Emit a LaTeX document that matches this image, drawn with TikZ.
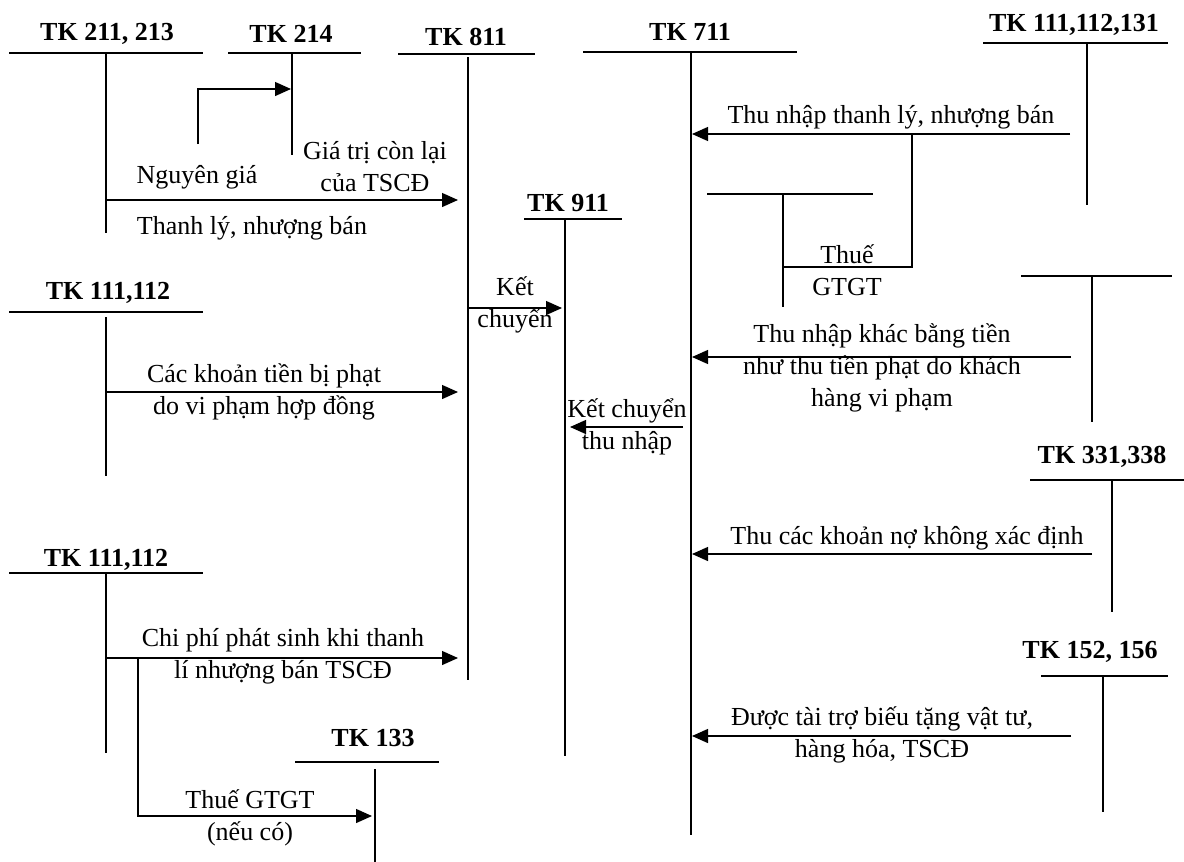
\documentclass[tikz,border=0pt]{standalone}
\usepackage{fontspec}
\setmainfont{Liberation Serif}
\usetikzlibrary{arrows.meta}
\newcommand{\myfs}{\fontsize{26}{32}\selectfont}
\begin{document}
\begin{tikzpicture}[x=1pt,y=-1pt,
  ln/.style={line width=1.3pt},
  arr/.style={line width=1.3pt,-{Triangle[length=16pt,width=14pt]}},
  ttl/.style={font=\myfs\bfseries, inner sep=0pt},
  lbl/.style={font=\myfs, inner sep=0pt, align=center}]
\useasboundingbox (0,0) rectangle (1184,862);

% ---------- T accounts ----------
\node[ttl] (t1) at (107,34) {TK 211, 213};
\coordinate (t1a) at (9,53);   \coordinate (t1b) at (203,53);
\coordinate (t1c) at (106,53); \coordinate (t1d) at (106,233);
\draw[ln] (t1a) -- (t1b); \draw[ln] (t1c) -- (t1d);

\node[ttl] (t2) at (291,34) {TK 214};
\coordinate (t2a) at (228,53); \coordinate (t2b) at (361,53);
\coordinate (t2c) at (292,53); \coordinate (t2d) at (292,155);
\draw[ln] (t2a) -- (t2b); \draw[ln] (t2c) -- (t2d);

\node[ttl] (t3) at (466,37) {TK 811};
\coordinate (t3a) at (398,54); \coordinate (t3b) at (535,54);
\coordinate (t3c) at (468,57); \coordinate (t3d) at (468,680);
\draw[ln] (t3a) -- (t3b); \draw[ln] (t3c) -- (t3d);

\node[ttl] (t4) at (690,32) {TK 711};
\coordinate (t4a) at (583,52); \coordinate (t4b) at (797,52);
\coordinate (t4c) at (691,52); \coordinate (t4d) at (691,835);
\draw[ln] (t4a) -- (t4b); \draw[ln] (t4c) -- (t4d);

\node[ttl] (t5) at (1074,25) {TK 111,112,131};
\coordinate (t5a) at (983,43);  \coordinate (t5b) at (1168,43);
\coordinate (t5c) at (1087,43); \coordinate (t5d) at (1087,205);
\draw[ln] (t5a) -- (t5b); \draw[ln] (t5c) -- (t5d);

\node[ttl] (t6) at (568,203) {TK 911};
\coordinate (t6a) at (524,219); \coordinate (t6b) at (622,219);
\coordinate (t6c) at (565,219); \coordinate (t6d) at (565,756);
\draw[ln] (t6a) -- (t6b); \draw[ln] (t6c) -- (t6d);

\node[ttl] (t7) at (108,293) {TK 111,112};
\coordinate (t7a) at (9,312);   \coordinate (t7b) at (203,312);
\coordinate (t7c) at (106,317); \coordinate (t7d) at (106,476);
\draw[ln] (t7a) -- (t7b); \draw[ln] (t7c) -- (t7d);

\node[ttl] (t8) at (1102,457) {TK 331,338};
\coordinate (t8a) at (1030,480); \coordinate (t8b) at (1184,480);
\coordinate (t8c) at (1112,480); \coordinate (t8d) at (1112,612);
\draw[ln] (t8a) -- (t8b); \draw[ln] (t8c) -- (t8d);

\node[ttl] (t9) at (106,560) {TK 111,112};
\coordinate (t9a) at (9,573);   \coordinate (t9b) at (203,573);
\coordinate (t9c) at (106,573); \coordinate (t9d) at (106,753);
\draw[ln] (t9a) -- (t9b); \draw[ln] (t9c) -- (t9d);

\node[ttl] (t10) at (1090,652) {TK 152, 156};
\coordinate (t10a) at (1041,676); \coordinate (t10b) at (1168,676);
\coordinate (t10c) at (1103,676); \coordinate (t10d) at (1103,812);
\draw[ln] (t10a) -- (t10b); \draw[ln] (t10c) -- (t10d);

\node[ttl] (t11) at (373,738) {TK 133};
\coordinate (t11a) at (295,762); \coordinate (t11b) at (439,762);
\coordinate (t11c) at (375,769); \coordinate (t11d) at (375,862);
\draw[ln] (t11a) -- (t11b); \draw[ln] (t11c) -- (t11d);

% unlabeled T accounts
\coordinate (u1a) at (707,194); \coordinate (u1b) at (873,194);
\coordinate (u1c) at (783,194); \coordinate (u1d) at (783,307);
\draw[ln] (u1a) -- (u1b); \draw[ln] (u1c) -- (u1d);

\coordinate (u2a) at (1021,276); \coordinate (u2b) at (1172,276);
\coordinate (u2c) at (1092,276); \coordinate (u2d) at (1092,422);
\draw[ln] (u2a) -- (u2b); \draw[ln] (u2c) -- (u2d);

% ---------- arrows ----------
% 211 -> 214
\coordinate (a1s) at (198,144); \coordinate (a1e) at (291,89);
\draw[arr] (a1s) |- (a1e);

% 211 -> 811
\coordinate (a2s) at (106,200); \coordinate (a2e) at (458,200);
\draw[arr] (a2s) -- (a2e);
\node[lbl] (l2a) at (197,177) {Nguyên giá};
\node[lbl] (l2b) at (375,167) {Giá trị còn lại\\của TSCĐ};
\node[lbl] (l2c) at (252,228) {Thanh lý, nhượng bán};

% 111,112,131 -> 711
\coordinate (a3s) at (1070,134); \coordinate (a3e) at (692,134);
\draw[arr] (a3s) -- (a3e);
\node[lbl] (l3) at (891,117) {Thu nhập thanh lý, nhượng bán};

% branch -> thue GTGT
\coordinate (a4s) at (912,134); \coordinate (a4e) at (783,267);
\draw[ln] (a4s) |- (a4e);
\node[lbl] (l4) at (847,270) {Thuế\\GTGT};

% 811 -> 911
\coordinate (a5s) at (468,308); \coordinate (a5e) at (562,308);
\draw[arr] (a5s) -- (a5e);
\node[lbl] (l5) at (515,305) {Kết\\chuyển};

% other income -> 711
\coordinate (a6s) at (1071,357); \coordinate (a6e) at (692,357);
\draw[arr] (a6s) -- (a6e);
\node[lbl] (l6) at (882,368) {Thu nhập khác bằng tiền\\như thu tiền phạt do khách\\hàng vi phạm};

% 711 -> 911
\coordinate (a7s) at (683,427); \coordinate (a7e) at (570,427);
\draw[arr] (a7s) -- (a7e);
\node[lbl] (l7) at (627,427) {Kết chuyển\\thu nhập};

% 111,112 -> 811 (penalties)
\coordinate (a8s) at (106,392); \coordinate (a8e) at (458,392);
\draw[arr] (a8s) -- (a8e);
\node[lbl] (l8) at (264,392) {Các khoản tiền bị phạt\\do vi phạm hợp đồng};

% 331,338 -> 711
\coordinate (a9s) at (1092,554); \coordinate (a9e) at (692,554);
\draw[arr] (a9s) -- (a9e);
\node[lbl] (l9) at (907,538) {Thu các khoản nợ không xác định};

% 111,112 -> 811 (costs)
\coordinate (a10s) at (106,658); \coordinate (a10e) at (458,658);
\draw[arr] (a10s) -- (a10e);
\node[lbl] (l10) at (283,656) {Chi phí phát sinh khi thanh\\lí nhượng bán TSCĐ};

% branch -> 133
\coordinate (a11s) at (138,658); \coordinate (a11e) at (372,816);
\draw[arr] (a11s) |- (a11e);
\node[lbl] (l11) at (250,818) {Thuế GTGT\\(nếu có)};

% 152,156 -> 711
\coordinate (a12s) at (1071,736); \coordinate (a12e) at (692,736);
\draw[arr] (a12s) -- (a12e);
\node[lbl] (l12) at (882,735) {Được tài trợ biếu tặng vật tư,\\hàng hóa, TSCĐ};
\end{tikzpicture}
\end{document}
